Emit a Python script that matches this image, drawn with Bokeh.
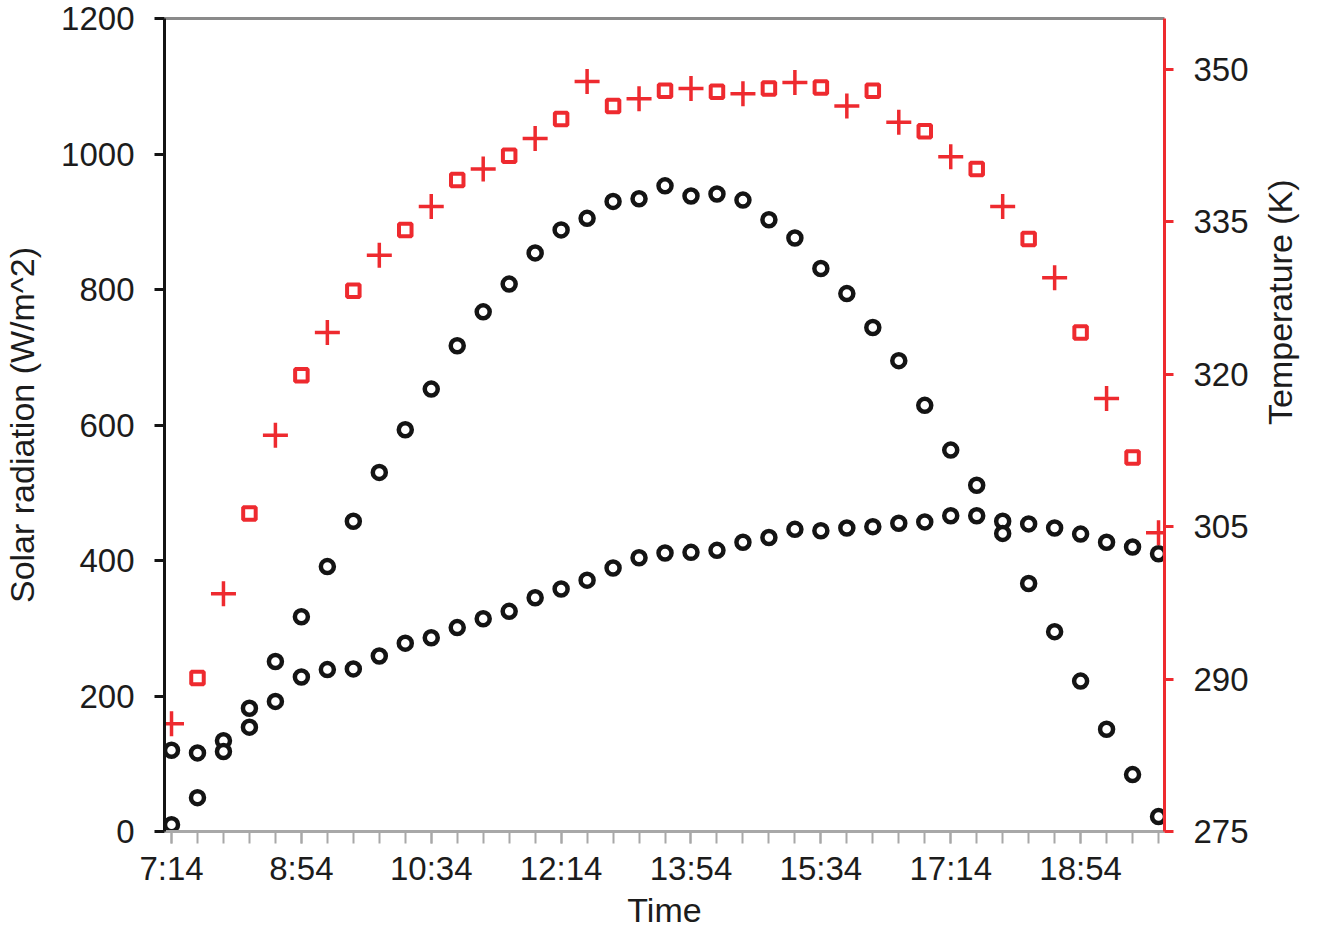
import math
from bokeh.plotting import figure
from bokeh.models import Range1d, LinearAxis, FixedTicker, ColumnDataSource
from bokeh.embed import file_html
from bokeh.resources import INLINE

# ---------------- data ----------------
times = ["7:14", "7:34", "7:54", "8:14", "8:34", "8:54", "9:14", "9:34", "9:54",
         "10:14", "10:34", "10:54", "11:14", "11:34", "11:54", "12:14", "12:34", "12:54",
         "13:14", "13:34", "13:54", "14:14", "14:34", "14:54", "15:14", "15:34", "15:54",
         "16:14", "16:34", "16:54", "17:14", "17:34", "17:54", "18:14", "18:34", "18:54",
         "19:14", "19:34", "19:54"]

radiation_a = [10, 50, 118, 182, 251, 317, 391, 458, 530, 593, 653, 717, 767, 808, 854,
               888, 905, 930, 934, 953, 938, 941, 932, 903, 876, 831, 794, 744, 695, 629,
               563, 511, 440, 366, 295, 222, 151, 84, 22]

radiation_b = [120, 116, 134, 154, 192, 228, 239, 240, 259, 278, 286, 301, 314, 325, 345,
               358, 371, 389, 404, 411, 412, 415, 427, 434, 446, 444, 448, 450, 455, 457,
               466, 466, 458, 454, 448, 439, 427, 420, 410]

# temperature series (K), alternating time stamps
temp_plus = [285.6, 298.4, 314.0, 324.1, 331.7, 336.5, 340.2, 343.2, 348.8, 347.1,
             348.1, 347.6, 348.7, 346.4, 344.8, 341.4, 336.5, 329.5, 317.6, 304.4]
temp_square = [290.1, 306.3, 319.9, 328.2, 334.2, 339.1, 341.5, 345.1, 346.4, 347.9,
               347.8, 348.1, 348.2, 347.9, 343.9, 340.2, 333.3, 324.1, 311.8]

time_labels = ["7:14", "8:54", "10:34", "12:14", "13:54", "15:34", "17:14", "18:54"]
rad_ticks = [0, 200, 400, 600, 800, 1000, 1200]
temp_ticks = [275, 290, 305, 320, 335, 350]


def to_min(s):
    h, m = s.split(":")
    return int(h) * 60 + int(m)


t = [to_min(s) for s in times]
t_plus = t[0::2]
t_square = t[1::2]

# ---------------- style ----------------
FONT = "Liberation Sans"
RED = "#ee2a2f"
BLACK = "#141414"
TXT = "#1c1c1c"
GRAY = "#a8a8a8"

x_start = to_min("7:14") - 5.4
x_end = x_start + 770

p = figure(width=1320, height=932,
           x_range=Range1d(x_start, x_end), y_range=Range1d(0, 1200),
           output_backend="svg", toolbar_location=None,
           min_border_left=163, min_border_right=155,
           min_border_top=18, min_border_bottom=101,
           outline_line_color=None, background_fill_color="white",
           border_fill_color="white")
p.extra_y_ranges = {"temp": Range1d(275, 355)}
p.xgrid.grid_line_color = None
p.ygrid.grid_line_color = None

# bottom axis
xa = p.xaxis[0]
xa.ticker = FixedTicker(ticks=[to_min(s) for s in time_labels], minor_ticks=t)
xa.major_label_overrides = {to_min(s): s for s in time_labels}
xa.axis_line_color = GRAY
xa.axis_line_width = 3
xa.major_tick_line_color = GRAY
xa.major_tick_line_width = 2
xa.major_tick_out = 12
xa.major_tick_in = 0
xa.minor_tick_line_color = GRAY
xa.minor_tick_line_width = 2
xa.minor_tick_out = 12
xa.minor_tick_in = 0
xa.major_label_text_font = FONT
xa.major_label_text_font_size = "33px"
xa.major_label_text_color = TXT
xa.major_label_standoff = 6
xa.axis_label = "Time"
xa.axis_label_text_font = FONT
xa.axis_label_text_font_size = "34px"
xa.axis_label_text_font_style = "normal"
xa.axis_label_text_color = TXT
xa.axis_label_standoff = 1

# left axis
ya = p.yaxis[0]
ya.ticker = FixedTicker(ticks=rad_ticks)
ya.axis_line_color = BLACK
ya.axis_line_width = 3
ya.major_tick_line_color = BLACK
ya.major_tick_line_width = 3
ya.major_tick_out = 10
ya.major_tick_in = 0
ya.minor_tick_line_color = None
ya.major_label_text_font = FONT
ya.major_label_text_font_size = "33px"
ya.major_label_text_color = TXT
ya.major_label_standoff = 20
ya.axis_label = "Solar radiation (W/m^2)"
ya.axis_label_text_font = FONT
ya.axis_label_text_font_size = "34px"
ya.axis_label_text_font_style = "normal"
ya.axis_label_text_color = TXT
ya.axis_label_standoff = 17

# right axis
ra = LinearAxis(y_range_name="temp", ticker=FixedTicker(ticks=temp_ticks))
ra.axis_line_color = RED
ra.axis_line_width = 3
ra.major_tick_line_color = RED
ra.major_tick_line_width = 3
ra.major_tick_out = 9
ra.major_tick_in = 0
ra.minor_tick_line_color = None
ra.major_label_text_font = FONT
ra.major_label_text_font_size = "33px"
ra.major_label_text_color = TXT
ra.major_label_standoff = 20
ra.axis_label = "Temperature (K)"
ra.axis_label_text_font = FONT
ra.axis_label_text_font_size = "34px"
ra.axis_label_text_font_style = "normal"
ra.axis_label_text_color = TXT
ra.axis_label_standoff = 28
try:
    ra.axis_label_orientation = math.pi / 2
except Exception:
    pass
p.add_layout(ra, "right")

# top border line
ta = LinearAxis(ticker=FixedTicker(ticks=[]))
ta.axis_line_color = "#8a8a8a"
ta.axis_line_width = 3
ta.major_tick_out = 0
ta.major_tick_in = 0
ta.minor_tick_out = 0
ta.minor_tick_in = 0
ta.major_label_text_font_size = "0px"
ta.major_label_standoff = 0
p.add_layout(ta, "above")

# ---------------- marks ----------------
src = ColumnDataSource(dict(t=t, a=radiation_a, b=radiation_b))
p.scatter(x="t", y="b", source=src, marker="circle", size=13, line_width=4.5,
          line_color=BLACK, fill_color="white")
p.scatter(x="t", y="a", source=src, marker="circle", size=13, line_width=4.5,
          line_color=BLACK, fill_color="white")

p.scatter(x=t_plus, y=temp_plus, y_range_name="temp", marker="cross", size=25,
          line_width=3.5, line_color=RED)
p.scatter(x=t_square, y=temp_square, y_range_name="temp", marker="square", size=12.5,
          line_width=4, line_color=RED, fill_color="white")

open("out.html", "w").write(file_html(p, INLINE))
